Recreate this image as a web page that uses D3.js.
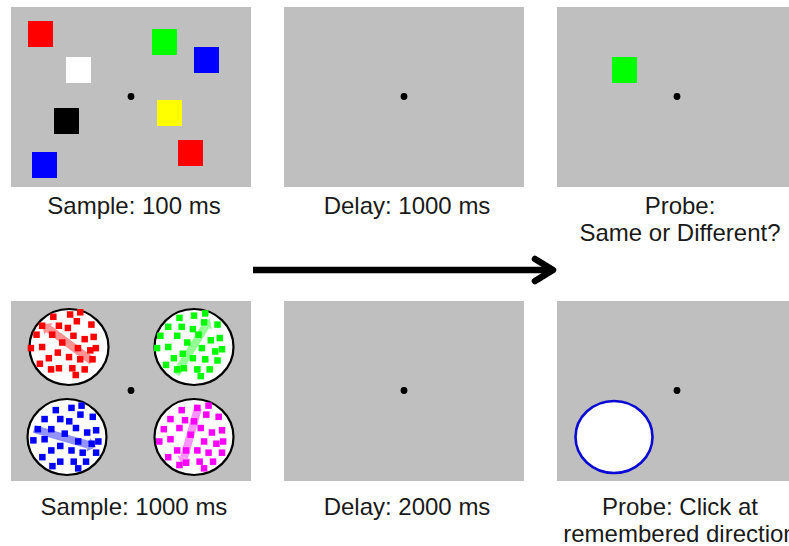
<!DOCTYPE html>
<html>
<head>
<meta charset="utf-8">
<script src="https://cdn.jsdelivr.net/npm/d3@7"></script>
<style>
  html, body { margin: 0; padding: 0; background: #fff; }
  svg { display: block; }
</style>
</head>
<body>
<div id="chart"></div>
<script>
// ── Data ────────────────────────────────────────────────────────────────────

const COLUMNS = ['sample', 'delay', 'probe'];
const ROWS    = ['change', 'motion'];

const topLabels    = [['Sample: 100 ms'], ['Delay: 1000 ms'], ['Probe:', 'Same or Different?']];
const bottomLabels = [['Sample: 1000 ms'], ['Delay: 2000 ms'], ['Probe: Click at', 'remembered direction']];

// colour squares, top-left corner in panel units (panel is 240 x 180)
const sampleSquares = [
  { color: '#ff0000', x: 17,  y: 14 },
  { color: '#ffffff', x: 55,  y: 50 },
  { color: '#00ff00', x: 141, y: 22 },
  { color: '#0000ff', x: 183, y: 40 },
  { color: '#ffff00', x: 146, y: 93 },
  { color: '#000000', x: 43,  y: 101 },
  { color: '#ff0000', x: 167, y: 133 },
  { color: '#0000ff', x: 21,  y: 145 },
];
const probeSquares = [{ color: '#00ff00', x: 55, y: 50 }];

// dot apertures: centre in panel units, motion bar [tail, head] offsets
const apertures = [
  { color: '#ff0000', cx: 58,  cy: 46,  bar: [[23, 14], [-27, -23]] },
  { color: '#00ff00', cx: 183, cy: 46,  bar: [[-18, 27], [16, -28]] },
  { color: '#0000ff', cx: 56,  cy: 136, bar: [[-33, -8], [29, 10]] },
  { color: '#ff00ff', cx: 183, cy: 136, bar: [[4, -29], [-12, 28]] },
];

const redDots = [
  [10,-31],[1,-29],[-14,-27],[-24,-19],[-9,-19],[7,-23],[20,-20],[-1,-17],[-29,-11],[-15,-11],
  [4,-10],[14,-7],[22,-9],[-6,-4],[-34,1],[-24,0],[8,1],[19,3],[24,1],[-10,5],
  [-18,10],[0,9],[10,11],[21,11],[-26,15],[-16,20],[-9,19],[3,19],[14,20],[6,25]
];
const greenDots = [
  [10,-30],[0,-28],[-13,-26],[9,-22],[21,-20],[-23,-18],[-11,-18],[-1,-16],[4,-11],[-15,-10],
  [-30,-10],[15,-6],[23,-8],[-6,-4],[-33,1],[-23,0],[7,1],[19,4],[25,2],[-10,6],
  [-18,10],[-1,10],[10,11],[21,12],[-25,16],[-15,20],[-9,19],[3,20],[14,20],[6,26]
];
const blueDots = [
  [13,-28],[4,-26],[-10,-24],[12,-20],[23,-18],[-20,-16],[-6,-16],[2,-14],[8,-8],[-26,-7],
  [-14,-7],[18,-4],[26,-6],[-2,-3],[-30,3],[-20,2],[10,4],[22,6],[28,4],[-6,8],
  [-14,12],[4,12],[14,14],[26,14],[-22,18],[-13,26],[-6,22],[6,22],[17,22],[10,28]
];
const magentaDots = [
  [13,-28],[3,-26],[-11,-24],[11,-20],[22,-18],[-21,-16],[-8,-15],[0,-14],[6,-8],[-27,-7],
  [-13,-8],[16,-4],[25,-6],[-3,-2],[-31,4],[-21,2],[9,4],[20,6],[26,4],[-7,12],
  [-15,12],[3,12],[13,14],[25,14],[-23,18],[-13,25],[-7,23],[5,22],[17,22],[9,28]
];
const apertureDots = [redDots, greenDots, blueDots, magentaDots];

// report circle on the motion probe
const probeCircle = [{ cx: 57, cy: 136 }];

// ── Layout ──────────────────────────────────────────────────────────────────

const WIDTH = 789, HEIGHT = 546;
const PANEL_W = 240, PANEL_H = 180;
const GRAY = '#bfbfbf';
const FONT = '"Liberation Sans", Arial, Helvetica, sans-serif';
const DOT_SPREAD = 1.12;   // aperture dot offsets were read a bit tight

const colX = d3.scalePoint().domain(COLUMNS).range([11, 557]);
const rowY = d3.scalePoint().domain(ROWS).range([7, 301]);
const captionGap = { change: 27, motion: 34 };

const svg = d3.select('#chart').append('svg')
  .attr('width', WIDTH)
  .attr('height', HEIGHT)
  .attr('viewBox', `0 0 ${WIDTH} ${HEIGHT}`);

svg.append('rect').attr('width', WIDTH).attr('height', HEIGHT).attr('fill', '#fff');

// one panel = gray screen + caption, returns local scales
function panel(col, row, lines) {
  const x0 = colX(col), y0 = rowY(row);
  const x = d3.scaleLinear().domain([0, PANEL_W]).range([x0, x0 + PANEL_W]);
  const y = d3.scaleLinear().domain([0, PANEL_H]).range([y0, y0 + PANEL_H]);
  const g = svg.append('g').attr('class', `panel ${col}-${row}`);

  g.append('rect')
    .attr('x', x(0)).attr('y', y(0))
    .attr('width', x(PANEL_W) - x(0)).attr('height', y(PANEL_H) - y(0))
    .attr('fill', GRAY);

  g.append('text')
    .attr('x', x(PANEL_W / 2) + 3)
    .attr('y', y(PANEL_H) + captionGap[row])
    .attr('text-anchor', 'middle')
    .attr('font-family', FONT)
    .attr('font-size', '24px')
    .attr('fill', '#1a1a1a')
    .selectAll('tspan')
    .data(lines)
    .join('tspan')
    .attr('x', x(PANEL_W / 2) + 3)
    .attr('dy', (d, i) => i === 0 ? 0 : 27)
    .text(d => d);

  return { g, x, y };
}

function fixation(p) {
  p.g.append('circle')
    .attr('cx', p.x(PANEL_W / 2)).attr('cy', p.y(PANEL_H / 2) - 0.5)
    .attr('r', 3.4).attr('fill', '#000');
}

function squares(p, data) {
  p.g.selectAll('rect.sq')
    .data(data)
    .join('rect')
    .attr('class', 'sq')
    .attr('x', d => p.x(d.x)).attr('y', d => p.y(d.y))
    .attr('width', 25).attr('height', 26)
    .attr('fill', d => d.color);
}

// ── Top row: change detection ───────────────────────────────────────────────

const s1 = panel('sample', 'change', topLabels[0]);
squares(s1, sampleSquares);
fixation(s1);

const d1 = panel('delay', 'change', topLabels[1]);
fixation(d1);

const p1 = panel('probe', 'change', topLabels[2]);
squares(p1, probeSquares);
fixation(p1);

// ── Bottom row: motion direction ────────────────────────────────────────────

const s2 = panel('sample', 'motion', bottomLabels[0]);

const ap = s2.g.selectAll('g.aperture')
  .data(apertures)
  .join('g')
  .attr('class', 'aperture');

ap.append('ellipse')
  .attr('cx', d => s2.x(d.cx)).attr('cy', d => s2.y(d.cy))
  .attr('rx', 39.5).attr('ry', 38)
  .attr('fill', '#fff')
  .attr('stroke', '#000')
  .attr('stroke-width', 2.2);

// translucent motion bar with arrow head
ap.append('g')
  .attr('opacity', 0.42)
  .each(function (d) {
    const [t, h] = d.bar;
    const tx = s2.x(d.cx + t[0]), ty = s2.y(d.cy + t[1]);
    const hx = s2.x(d.cx + h[0]), hy = s2.y(d.cy + h[1]);
    const ang = Math.atan2(hy - ty, hx - tx);
    const ux = Math.cos(ang), uy = Math.sin(ang);
    const bx = hx - ux * 8, by = hy - uy * 8;
    const sel = d3.select(this);
    sel.append('line')
      .attr('x1', tx).attr('y1', ty).attr('x2', bx).attr('y2', by)
      .attr('stroke', d.color).attr('stroke-width', 8);
    sel.append('path')
      .attr('d', `M${hx},${hy}L${bx - uy * 7},${by + ux * 7}L${bx + uy * 7},${by - ux * 7}Z`)
      .attr('fill', d.color);
  });

ap.each(function (d, i) {
  d3.select(this).selectAll('rect.dot')
    .data(apertureDots[i])
    .join('rect')
    .attr('class', 'dot')
    .attr('x', p => s2.x(d.cx + p[0] * DOT_SPREAD) - 3.25)
    .attr('y', p => s2.y(d.cy + p[1] * DOT_SPREAD) - 3.25)
    .attr('width', 6.5).attr('height', 6.5)
    .attr('fill', d.color);
});
fixation(s2);

const d2 = panel('delay', 'motion', bottomLabels[1]);
fixation(d2);

const p2 = panel('probe', 'motion', bottomLabels[2]);
p2.g.selectAll('ellipse.report')
  .data(probeCircle)
  .join('ellipse')
  .attr('class', 'report')
  .attr('cx', d => p2.x(d.cx)).attr('cy', d => p2.y(d.cy))
  .attr('rx', 38.5).attr('ry', 36)
  .attr('fill', '#fff')
  .attr('stroke', '#0a0ad2')
  .attr('stroke-width', 2.6);
fixation(p2);

// ── Time arrow ──────────────────────────────────────────────────────────────

const arrowY = 270;
svg.append('line')
  .attr('x1', 253).attr('y1', arrowY).attr('x2', 550).attr('y2', arrowY)
  .attr('stroke', '#000').attr('stroke-width', 6.5);
svg.append('path')
  .attr('d', `M535,${arrowY - 11}L553,${arrowY}L535,${arrowY + 11}`)
  .attr('fill', 'none')
  .attr('stroke', '#000')
  .attr('stroke-width', 6.5)
  .attr('stroke-linecap', 'round')
  .attr('stroke-linejoin', 'round');
</script>
</body>
</html>
